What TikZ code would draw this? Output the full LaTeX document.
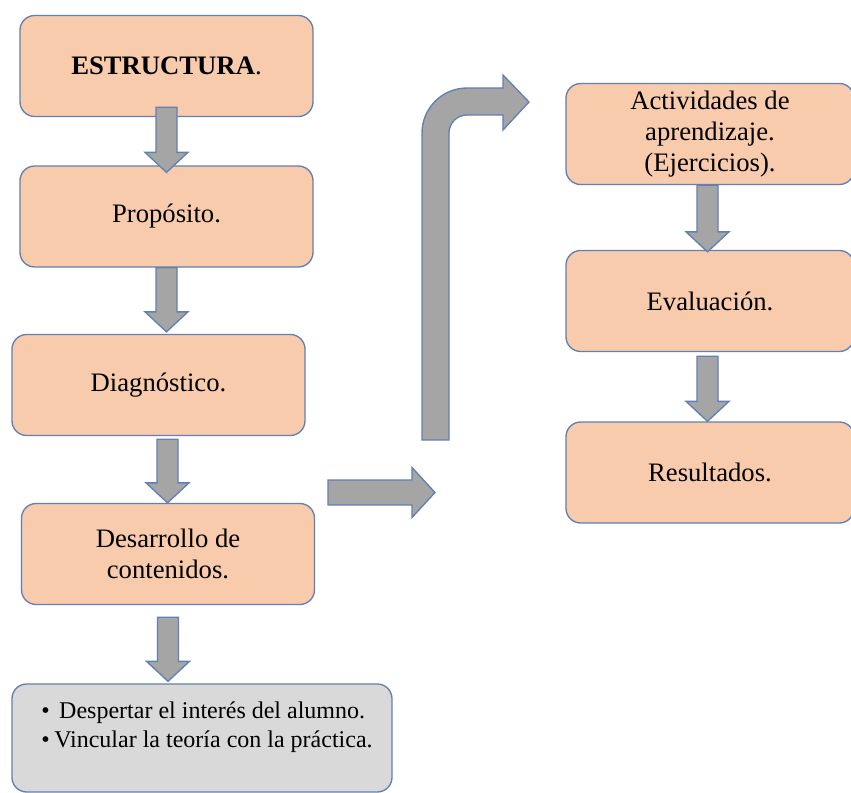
\documentclass[tikz,border=0pt]{standalone}
\usepackage{fontspec}
\setmainfont{Liberation Serif}
\usetikzlibrary{calc}

\newdimen\upx
\upx=0.75pt

\definecolor{borde}{RGB}{98,128,178}
\definecolor{naranja}{RGB}{248,203,173}
\definecolor{flechagris}{RGB}{165,165,165}
\definecolor{cajagris}{RGB}{217,217,217}

\tikzset{
  caja/.style={draw=borde, fill=naranja, line width=1pt, rounded corners=11pt,
    minimum width=293\upx, minimum height=101\upx, inner sep=0pt, align=center,
    font=\fontsize{20}{23}\selectfont},
  flecha/.style={draw=borde, fill=flechagris, line width=1pt, line join=miter}
}

\newcommand{\flechabaja}[5][0]{%
  \coordinate (fa) at ($(#2.south)+(#1,#4)$);
  \coordinate (fb) at ($(#3.north)+(0,#5)$);
  \draw[flecha] ($(fa)+(-10.5,0)$) -- ($(fa)+(10.5,0)$) -- ($(fb -| fa)+(10.5,-20)$)
    -- ($(fb -| fa)+(21.5,-20)$) -- (fb -| fa) -- ($(fb -| fa)+(-21.5,-20)$)
    -- ($(fb -| fa)+(-10.5,-20)$) -- cycle;}

\begin{document}
\begin{tikzpicture}[x=0.75pt,y=-0.75pt]

\useasboundingbox (0,0) rectangle (851,793);

\node[caja] (estructura) at (166.5,66) {\textbf{ESTRUCTURA}.};
\node[caja] (proposito) at (166.5,216.5) {Propósito.};
\node[caja] (diagnostico) at (158.5,385) {Diagnóstico.};
\node[caja] (desarrollo) at (168,554) {Desarrollo de\\contenidos.};
\node[caja, fill=cajagris, minimum width=380\upx, minimum height=108\upx] (gris) at (202,738) {};
\node[anchor=north west, align=left, inner sep=0pt, font=\fontsize{18}{21.5}\selectfont] (lista) at (41,702)
  {\makebox[18\upx][l]{\textbullet}Despertar el interés del alumno.\\
   \makebox[13\upx][l]{\textbullet}Vincular la teoría con la práctica.};

\node[caja, minimum width=288\upx] (actividades) at (710,134) {Actividades de\\aprendizaje.\\(Ejercicios).};
\node[caja, minimum width=288\upx] (evaluacion) at (710,301) {Evaluación.};
\node[caja, minimum width=288\upx] (resultados) at (710,472.5) {Resultados.};

\flechabaja{estructura}{proposito}{-10}{7}
\flechabaja{proposito}{diagnostico}{0}{-2}
\flechabaja[9]{diagnostico}{desarrollo}{3}{0}
\flechabaja{desarrollo}{gris}{12}{-2}
\flechabaja[-2.5]{actividades}{evaluacion}{0}{2}
\flechabaja[-2.5]{evaluacion}{resultados}{4}{0}

\coordinate (h0) at (328,492.5);
\coordinate (h1) at (435,492.5);
\draw[flecha] ($(h0)+(0,-12.5)$) -- ($(h1)+(-23,-12.5)$) -- ($(h1)+(-23,-25)$) -- (h1)
  -- ($(h1)+(-23,25)$) -- ($(h1)+(-23,12.5)$) -- ($(h0)+(0,12.5)$) -- cycle;

\coordinate (c0) at (435.5,440);
\coordinate (c1) at (529,102);
\draw[flecha] ($(c0)+(-13.5,0)$) -- (422,133) arc[start angle=180, end angle=270, radius=45]
  -- (503,88) -- (503,75) -- (c1) -- (503,130) -- (503,115) -- (467,115)
  arc[start angle=270, end angle=180, radius=18] -- ($(c0)+(13.5,0)$) -- cycle;

\end{tikzpicture}
\end{document}
